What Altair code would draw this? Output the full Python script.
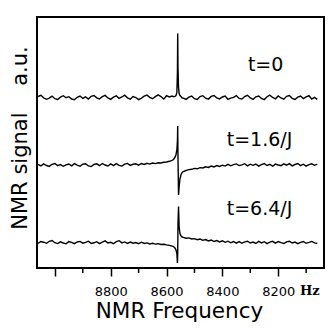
import altair as alt
import pandas as pd

# ---- data (signal in a.u., offsets stack the traces) ----
TRACES = ["t=0", "t=1.6/J", "t=6.4/J"]
OFFSETS = [170.5, 103.0, 25.5]

# frequency grid: left part 9060 -> 8580 Hz (10 Hz step), peak region, right part 8540 -> 8060 Hz
LEFT_START = 9060
RIGHT_START = 8540
STEP = 10
PEAK_FREQ = [8575, 8570, 8566, 8563, 8561, 8560, 8559, 8557, 8555, 8552, 8548, 8544]

T1_LEFT = [1.0, 2.2, -0.3, -1.8, -0.6, 1.4, -1.2,
           -2.0, 0.4, 1.8, -0.2, 0.8, -1.5, -2.2,
           0.2, 1.5, -0.9, 0.6, -1.6, 1.2, 2.0,
           -0.4, -1.4, 0.9, 2.1, -0.5, -1.9, 0.3,
           1.7, -0.8, 0.5, 2.3, -0.3, -1.7, 1.0,
           0.0, -2.1, -0.6, 1.3, 2.4, 0.2, -1.2,
           0.8, 2.6, 0.9, -1.6, 1.8, 0.5, 1.4]
T1_PEAK = [0.8, 1.2, 2.0, 5.0, 25.0, 64.0, 30.0, 10.0, 4.0, 2.0, 1.0, -0.5]
T1_RIGHT = [-0.6, -1.9, 0.3, 1.5, -1.2, -2.0, 0.9,
            1.8, -0.7, -1.6, 1.1, 2.0, -0.3, -1.4,
            0.5, 1.4, -1.8, -0.6, 0.2, 1.9, -0.9,
            -1.5, 1.0, 2.2, -0.4, -1.8, 0.7, 1.5,
            -1.0, -2.1, 0.8, 2.3, 0.0, -1.3, 1.6,
            -0.5, -1.7, 1.2, 1.9, -0.8, -2.0, 0.4,
            1.4, -1.1, 0.6, 1.8, -1.5, 0.1, -1.9]

T2_LEFT = [0.6, -0.9, 1.1, -0.5, -1.4, 0.7, 1.5,
           -0.6, 0.4, -1.3, 0.1, 1.0, -0.9, 1.4,
           -0.2, -1.2, 0.8, 1.3, -0.8, -1.6, 0.5,
           1.2, -0.7, 1.5, 0.0, -1.0, 1.1, -0.6,
           1.3, -0.3, -1.1, 0.9, 1.6, -0.4, 0.7,
           1.2, -0.2, 1.5, 0.6, 1.7, 0.9, 2.0,
           1.4, 2.2, 2.0, 2.7, 3.0, 3.7, 4.6]
T2_PEAK = [5.5, 7.5, 10.5, 15.0, 24.0, 39.0, 8.0, -30.0, -22.0, -14.0, -9.5, -7.5]
T2_RIGHT = [-6.5, -5.5, -4.6, -4.3, -3.4, -3.8, -2.6,
            -3.0, -1.8, -2.4, -1.0, -1.9, -0.6, -1.5,
            -0.2, -1.1, 0.6, -0.8, 0.3, 1.1, -0.6,
            0.2, 1.3, -0.9, 0.8, -0.3, 1.0, -1.1,
            0.4, 1.4, -0.5, 0.6, -1.2, 0.9, 0.0,
            -0.7, 1.2, -0.2, 1.3, -0.9, 0.5, 1.5,
            -0.6, 0.8, -1.1, 0.4, 1.2, -0.3, 0.9]

T3_LEFT = [-0.9, 1.0, 0.3, -0.8, 1.2, 2.0, -0.2,
           -1.1, 0.7, -0.5, -1.3, 0.9, 0.2, -1.2,
           0.5, 1.1, -0.7, 0.1, 1.3, -0.9, -0.3,
           0.8, -1.1, 0.4, 1.6, -0.5, 0.2, -1.2,
           0.9, 1.8, -0.4, 0.6, -0.9, 0.5, -0.7,
           -0.1, -1.2, 0.3, -1.0, -0.4, -1.4, -0.8,
           -1.6, -1.2, -2.0, -1.8, -2.4, -2.9, -3.6]
T3_PEAK = [-4.0, -5.5, -7.5, -11.0, -20.5, -10.0, 18.0, 36.0, 16.0, 9.0, 6.5, 5.5]
T3_RIGHT = [5.2, 4.3, 4.6, 3.5, 3.9, 2.8, 3.5,
            2.2, 3.0, 1.6, 2.5, 1.0, 2.0, 0.6,
            1.7, 0.2, 1.3, -0.3, 1.0, -0.6, 0.9,
            -0.8, 0.7, 1.3, -0.5, 0.4, -1.0, 1.1,
            -0.4, 0.8, -1.1, 0.3, 1.2, -0.6, 0.9,
            -0.2, -1.0, 0.7, 1.3, -0.5, 0.4, -1.2,
            0.2, 1.0, -0.8, 0.1, 1.1, -0.4, -1.0]

LABEL_FREQ = [8245, 8267, 8267]
LABEL_Y = [203, 128, 59]

MAJOR_TICKS = [9000, 8800, 8600, 8400, 8200]
MINOR_TICKS = [8900, 8700, 8500, 8300, 8100]
UNIT_LABEL = "Hz"
UNIT_FREQ = 8087
UNIT_Y = -23

# ---- build tables ----
rows = []
segments = [(T1_LEFT, T1_PEAK, T1_RIGHT), (T2_LEFT, T2_PEAK, T2_RIGHT), (T3_LEFT, T3_PEAK, T3_RIGHT)]
for name, off, (left, peak, right) in zip(TRACES, OFFSETS, segments):
    for i, v in enumerate(left):
        rows.append({"trace": name, "freq": LEFT_START - STEP * i, "signal": off + v})
    for f, v in zip(PEAK_FREQ, peak):
        rows.append({"trace": name, "freq": f, "signal": off + v})
    for i, v in enumerate(right):
        rows.append({"trace": name, "freq": RIGHT_START - STEP * i, "signal": off + v})
df = pd.DataFrame(rows)

labels_df = pd.DataFrame({"text": TRACES, "freq": LABEL_FREQ, "signal": LABEL_Y})
minor_df = pd.DataFrame({"freq": MINOR_TICKS})
unit_df = pd.DataFrame({"text": [UNIT_LABEL], "freq": [UNIT_FREQ], "signal": [UNIT_Y]})

x_scale = alt.Scale(domain=[8036, 9064], reverse=True, nice=False, zero=False)
y_scale = alt.Scale(domain=[0, 251], nice=False, zero=False)

x_axis = alt.Axis(
    values=MAJOR_TICKS, format="d",
    labelExpr="datum.value == 9000 ? '' : datum.label",
    labelFont="DejaVu Sans", labelFontSize=13, labelColor="black", labelPadding=9,
    labelBaseline="top",
    tickSize=8, tickColor="black", tickWidth=1.5, domain=False, grid=False,
    title="NMR Frequency", titleFont="DejaVu Sans", titleFontSize=21.5, titleFontWeight="normal",
    titleColor="black", titleX=142, titleY=49, titleBaseline="alphabetic", titleAlign="center",
)
y_axis = alt.Axis(
    ticks=False, labels=False, domain=False, grid=False,
    title="NMR signal\u00a0\u00a0\u00a0\u00a0a.u.", titleFont="DejaVu Sans", titleFontSize=21,
    titleFontWeight="normal", titleColor="black", titleX=-17, titleY=120.5,
    titleAngle=270, titleBaseline="middle", titleAlign="center",
)

lines = alt.Chart(df).mark_line(color="black", strokeWidth=1.4).encode(
    x=alt.X("freq:Q", scale=x_scale, axis=x_axis),
    y=alt.Y("signal:Q", scale=y_scale, axis=y_axis),
    detail="trace:N",
)

minor = alt.Chart(minor_df).mark_rule(color="black", strokeWidth=1.5).encode(
    x=alt.X("freq:Q", scale=x_scale),
    y=alt.value(251), y2=alt.value(256),
)

texts = alt.Chart(labels_df).mark_text(
    font="DejaVu Sans", fontSize=19, color="black", align="center", baseline="middle"
).encode(
    x=alt.X("freq:Q", scale=x_scale),
    y=alt.Y("signal:Q", scale=y_scale),
    text="text:N",
)

unit = alt.Chart(unit_df).mark_text(
    font="DejaVu Serif", fontSize=13, fontWeight="bold", color="black", align="center", baseline="middle"
).encode(
    x=alt.X("freq:Q", scale=x_scale),
    y=alt.Y("signal:Q", scale=y_scale),
    text="text:N",
)

chart = alt.layer(lines, minor, texts, unit).properties(
    width=287, height=251,
    autosize=alt.AutoSizeParams(type="none"),
    padding={"left": 29, "top": 9, "right": 1, "bottom": 59},
).configure_view(stroke="black", strokeWidth=2)

chart.save("out.html", embed_options={"renderer": "svg", "actions": False})
